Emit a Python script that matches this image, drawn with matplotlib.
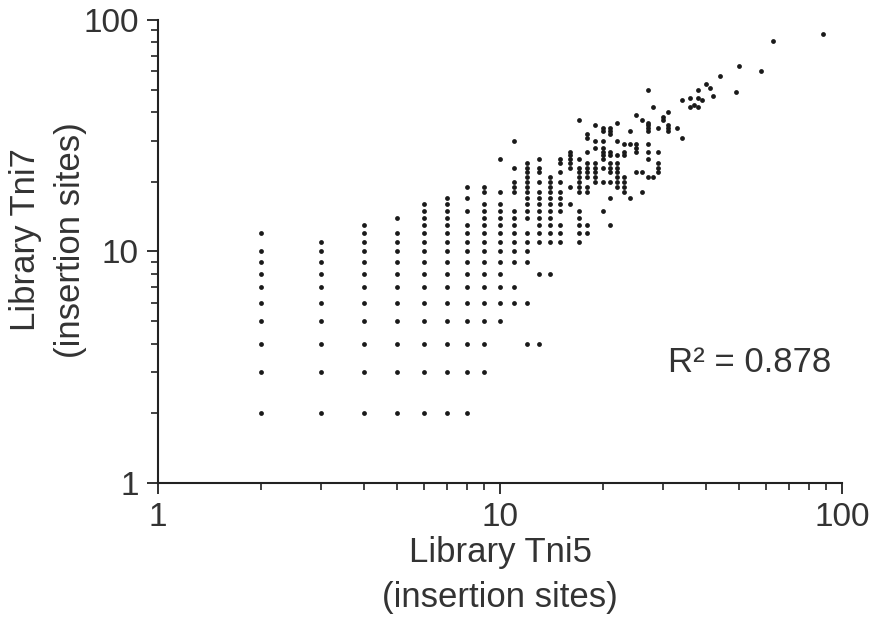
import matplotlib
matplotlib.use("Agg")
import matplotlib.pyplot as plt
from matplotlib.ticker import FixedLocator, NullFormatter, LogLocator

# insertion-site counts per gene: Tni5 value and the Tni7 values seen at it
tni5 = [2, 3, 4, 5, 6, 7, 8, 9, 10, 11, 12, 13, 14, 15, 16, 17, 18, 19, 20,
        21, 22, 23, 24, 25, 26, 27, 28, 29, 30, 31, 33, 34, 36, 37, 38, 39,
        40, 41, 42, 44, 49, 50, 58, 63, 88]
tni7 = [
    [2, 3, 4, 5, 6, 7, 8, 9, 10, 12],
    [2, 3, 4, 5, 6, 7, 8, 9, 10, 11],
    [2, 3, 4, 5, 6, 7, 8, 9, 10, 11, 12, 13],
    [2, 3, 4, 5, 6, 7, 8, 9, 10, 11, 12, 14],
    [2, 3, 4, 5, 6, 7, 8, 9, 10, 11, 12, 13, 14, 15, 16],
    [2, 3, 4, 5, 6, 7, 8, 9, 10, 11, 12, 13, 14, 15, 16, 17],
    [2, 3, 4, 5, 6, 7, 8, 9, 10, 11, 12, 13, 15, 17, 19],
    [3, 4, 5, 6, 7, 8, 9, 10, 11, 12, 13, 14, 15, 16, 18, 19],
    [5, 6, 7, 8, 9, 10, 11, 12, 13, 14, 15, 16, 18, 25],
    [6, 7, 9, 10, 11, 12, 13, 14, 15, 18, 19, 20, 23, 30],
    [4, 6, 9, 10, 11, 12, 14, 15, 16, 17, 18, 19, 20, 21, 22, 23, 24],
    [4, 8, 11, 12, 13, 14, 15, 16, 17, 18, 20, 22, 23, 25],
    [8, 11, 12, 13, 14, 15, 16, 17, 18, 19, 20, 21],
    [11, 12, 13, 15, 16, 17, 18, 20, 22, 24, 25],
    [16, 19, 23, 24, 25, 26, 27],
    [11, 12, 13, 14, 15, 18, 19, 20, 21, 22, 23, 25, 37],
    [12, 13, 18, 19, 21, 22, 23, 24, 27, 31, 32],
    [20, 21, 22, 23, 24, 28, 30, 35],
    [15, 20, 23, 25, 26, 27, 28, 30, 33, 34],
    [13, 17, 20, 22, 23, 24, 26, 27, 32, 33, 34],
    [19, 20, 21, 22, 23, 24, 26, 30, 36],
    [18, 19, 20, 21, 26, 27, 29],
    [17, 29, 33],
    [22, 27, 28, 29, 39],
    [18, 22, 37],
    [21, 25, 27, 29, 33, 34, 35, 36, 50],
    [21, 42],
    [22, 23, 24, 27, 34],
    [37, 38],
    [33, 34, 35, 40],
    [34],
    [31, 45],
    [42, 46],
    [43],
    [42, 46, 50],
    [45],
    [53],
    [51],
    [47],
    [57],
    [49],
    [63],
    [60],
    [81],
    [87],
]
r_squared = 0.878

xs = [x for x, col in zip(tni5, tni7) for _ in col]
ys = [y for col in tni7 for y in col]

plt.rcParams['font.family'] = ['Liberation Sans', 'DejaVu Sans']
text_color = '#333333'

fig = plt.figure(figsize=(8.78, 6.2), dpi=100)
ax = fig.add_axes([0.180, 0.221, 0.779, 0.747])

ax.scatter(xs, ys, s=12, c='#1a1a1a', linewidths=0, zorder=3)

ax.set_xscale('log')
ax.set_yscale('log')
ax.set_xlim(1, 100)
ax.set_ylim(1, 100)

for side in ['top', 'right']:
    ax.spines[side].set_visible(False)
for side in ['left', 'bottom']:
    ax.spines[side].set_linewidth(1.5)
    ax.spines[side].set_color('#222222')

for axis in (ax.xaxis, ax.yaxis):
    axis.set_major_locator(FixedLocator([1, 10, 100]))
    axis.set_minor_locator(LogLocator(base=10, subs=range(2, 10)))
    axis.set_minor_formatter(NullFormatter())
ax.set_xticklabels(['1', '10', '100'])
ax.set_yticklabels(['1', '10', '100'])

ax.tick_params(which='major', direction='out', length=8, width=1.3,
               color='#222222', labelsize=24, labelcolor=text_color, pad=6)
ax.tick_params(which='minor', direction='out', length=5, width=1.2,
               color='#222222')

ax.set_xlabel("Library Tni5\n(insertion sites)", fontsize=25,
              color=text_color, linespacing=1.45, labelpad=2)
ax.set_ylabel("Library Tni7\n(insertion sites)", fontsize=25,
              color=text_color, linespacing=1.45)
ax.yaxis.set_label_coords(-0.104, 0.525)

ax.text(0.746, 0.261, f"R\u00b2 = {r_squared:.3f}", transform=ax.transAxes,
        fontsize=25, color=text_color, ha='left', va='center')

fig.savefig("out.png", dpi=100)
